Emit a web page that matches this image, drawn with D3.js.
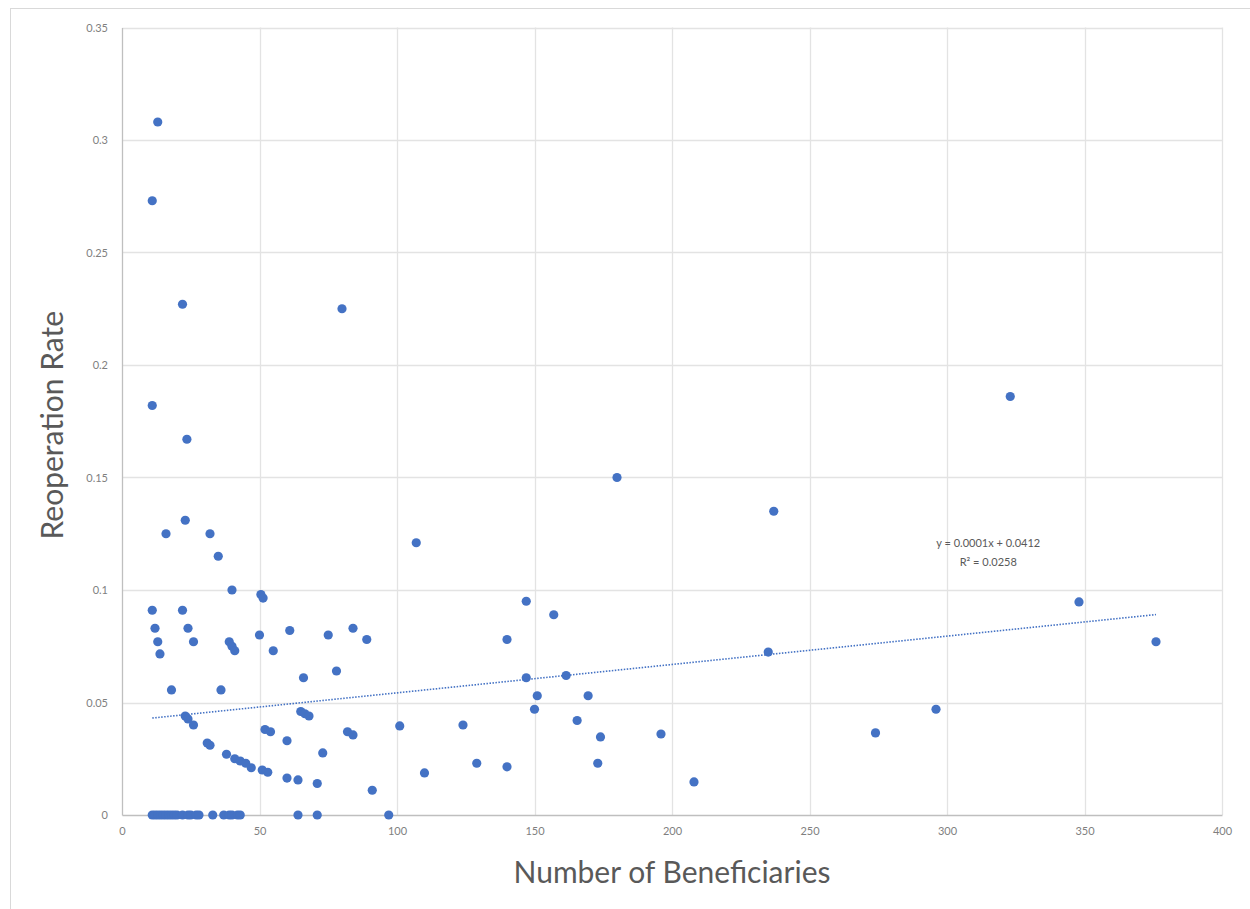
<!DOCTYPE html>
<html><head><meta charset="utf-8">
<script src="https://cdn.jsdelivr.net/npm/d3@7"></script>
<style>body{margin:0;background:#fff;} svg{display:block;font-family:Lato,"Open Sans",sans-serif;}</style>
</head><body>
<svg id="c" width="1250" height="909"></svg>
<script>
const beneficiaries = [13,11,22,80,11,23.6,323,180,237,23,16,32,35,107,40,50.5,51.3,11,22,12,24,13,26,13.8,39,40,41,50,61,55,75,84,89,78,66,18,36,23,24,26,65,66.5,68,52,54,60,31,32,38,41,43,45,47,51,53,60,64,71,73,82,84,91,101,110,147,157,140,147,161.5,151,169.5,150,165.5,124,174,129,140,173,235,196,208,348,376,296,274,
  11,12,13,14,15,16,17,18,19,20,22,24,25,27,28,33,37,39,40,42,43,64,71,97];
const reoperationRate = [0.308,0.273,0.227,0.225,0.182,0.167,0.186,0.150,0.135,0.131,0.125,0.125,0.115,0.121,0.100,0.098,0.0964,0.091,0.091,0.083,0.083,0.077,0.077,0.0716,0.077,0.075,0.073,0.080,0.082,0.073,0.080,0.083,0.078,0.064,0.061,0.0556,0.0556,0.044,0.0427,0.040,0.046,0.045,0.044,0.038,0.037,0.033,0.032,0.031,0.027,0.025,0.024,0.023,0.021,0.020,0.019,0.0164,0.0156,0.014,0.0276,0.037,0.0356,0.011,0.0396,0.0187,0.095,0.089,0.078,0.061,0.062,0.053,0.053,0.047,0.042,0.040,0.0347,0.023,0.0214,0.023,0.0724,0.036,0.0147,0.0947,0.077,0.047,0.0365,
  0,0,0,0,0,0,0,0,0,0,0,0,0,0,0,0,0,0,0,0,0,0,0,0];
const xTicks = [0,50,100,150,200,250,300,350,400];
const yTicks = [0,0.05,0.1,0.15,0.2,0.25,0.3,0.35];
const yTickLabels = ["0","0.05","0.1","0.15","0.2","0.25","0.3","0.35"];
const trendCoef = [0.000126, 0.0417]; // slope, intercept as drawn
const trendRange = [11, 376];
const trendLabel = ["y = 0.0001x + 0.0412", "R² = 0.0258"];

const svg = d3.select("#c");
const M = {l:122, r:1222, t:27.5, b:815};
const x = d3.scaleLinear().domain([0,400]).range([M.l, M.r]);
const y = d3.scaleLinear().domain([0,0.35]).range([M.b, M.t]);

// outer chart border
svg.append("rect").attr("x",10.5).attr("y",8.5).attr("width",1250).attr("height",1000)
  .attr("fill","none").attr("stroke","#d9d9d9");

// gridlines
svg.append("g").selectAll("line").data(yTicks.slice(1)).join("line")
  .attr("x1",M.l).attr("x2",M.r).attr("y1",d=>Math.round(y(d))+0.5).attr("y2",d=>Math.round(y(d))+0.5)
  .attr("stroke","#e3e3e3").attr("stroke-width",1.3);
svg.append("g").selectAll("line").data(xTicks.slice(1)).join("line")
  .attr("y1",M.t).attr("y2",M.b).attr("x1",d=>Math.round(x(d))+0.5).attr("x2",d=>Math.round(x(d))+0.5)
  .attr("stroke","#e3e3e3").attr("stroke-width",1.3);

// axes
const xAxis = d3.axisBottom(x).tickValues(xTicks).tickSize(0).tickPadding(12);
const gx = svg.append("g").attr("transform",`translate(0,${M.b})`).call(xAxis);
gx.select(".domain").attr("stroke","#bfbfbf").attr("stroke-width",1.3);
gx.selectAll("text").attr("fill","#7f7f7f").style("font-size","11px").style("font-family","Lato,sans-serif");

const yAxis = d3.axisLeft(y).tickValues(yTicks).tickFormat((d,i)=>yTickLabels[i]).tickSize(0).tickPadding(14);
const gy = svg.append("g").attr("transform",`translate(${M.l},0)`).call(yAxis);
gy.select(".domain").attr("stroke","#bfbfbf").attr("stroke-width",1.3);
gy.selectAll("text").attr("fill","#7f7f7f").style("font-size","11px").style("font-family","Lato,sans-serif");

// points
const pts = beneficiaries.map((b,i)=>({x:b, y:reoperationRate[i]}));
svg.append("g").selectAll("circle").data(pts).join("circle")
  .attr("cx",d=>x(d.x)).attr("cy",d=>y(d.y)).attr("r",4.6)
  .attr("fill","#4472c4");

// trendline
const tl = trendRange.map(v=>({x:v, y:trendCoef[0]*v+trendCoef[1]}));
svg.append("path").datum(tl)
  .attr("d", d3.line().x(d=>x(d.x)).y(d=>y(d.y)))
  .attr("stroke","#4472c4").attr("stroke-width",1.6).attr("stroke-dasharray","1.5,1.5").attr("fill","none");

// trend label
svg.append("text").attr("x",x(315)).attr("y",y(0.1191)).attr("text-anchor","middle")
  .attr("fill","#595959").style("font-size","11px").text(trendLabel[0]);
svg.append("text").attr("x",x(315)).attr("y",y(0.1107)).attr("text-anchor","middle")
  .attr("fill","#595959").style("font-size","11px").text(trendLabel[1]);

// titles
svg.append("text").attr("x",672).attr("y",883).attr("text-anchor","middle")
  .attr("fill","#595959").style("font-size","30px").text("Number of Beneficiaries");
svg.append("text").attr("transform",`translate(63,${(M.t+M.b)/2 + 4}) rotate(-90)`).attr("text-anchor","middle")
  .attr("fill","#595959").style("font-size","30px").text("Reoperation Rate");
</script>
</body></html>
